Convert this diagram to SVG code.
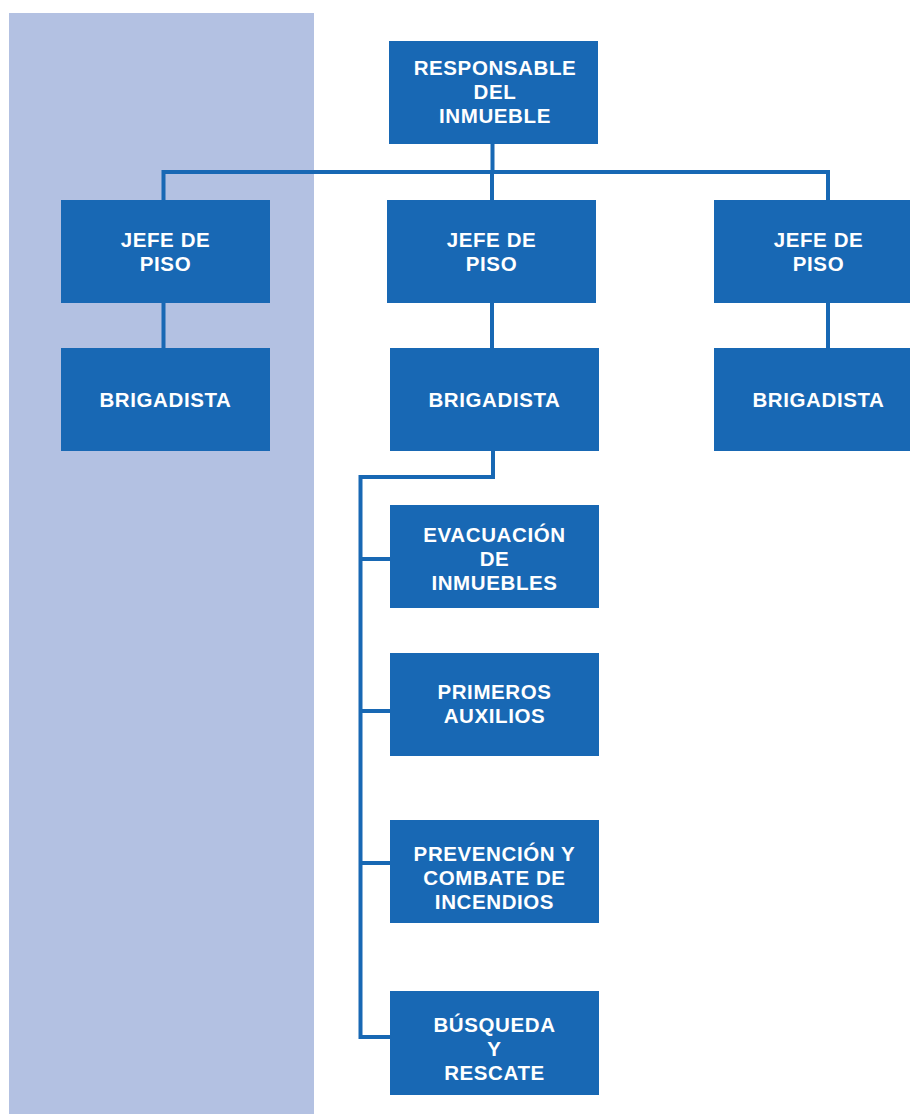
<svg xmlns="http://www.w3.org/2000/svg" width="910" height="1114" viewBox="0 0 910 1114">
<style>
.box{fill:#1868B4}
.t{fill:#fff;font-family:"Liberation Sans",Arial,sans-serif;font-weight:bold;font-size:20.5px;letter-spacing:0.6px;text-anchor:middle}
.c{fill:none;stroke:#1868B4;stroke-width:4}
</style>
<rect x="0" y="0" width="910" height="1114" fill="#fff"/>
<rect x="9" y="13" width="305" height="1101" fill="#B3C1E2"/>
<g id="connectors">
<path class="c" d="M492.5 144V172M163.5 200V172H828V200M492 172V200"/>
<path class="c" d="M163.5 303V348M492 303V348M828 303V348"/>
<path class="c" d="M493 451V477H360.5V1037H390M360.5 559H390M360.5 711H390M360.5 863H390"/>
</g>
<g id="n-responsable"><rect class="box" x="389" y="41" width="209" height="103"/><text class="t" x="495" y="75">RESPONSABLE</text><text class="t" x="495" y="99">DEL</text><text class="t" x="495" y="123">INMUEBLE</text></g>
<g id="n-jefe1"><rect class="box" x="61" y="200" width="209" height="103"/><text class="t" x="165.5" y="247">JEFE DE</text><text class="t" x="165.5" y="271">PISO</text></g>
<g id="n-jefe2"><rect class="box" x="387" y="200" width="209" height="103"/><text class="t" x="491.5" y="247">JEFE DE</text><text class="t" x="491.5" y="271">PISO</text></g>
<g id="n-jefe3"><rect class="box" x="714" y="200" width="209" height="103"/><text class="t" x="818.5" y="247">JEFE DE</text><text class="t" x="818.5" y="271">PISO</text></g>
<g id="n-brig1"><rect class="box" x="61" y="348" width="209" height="103"/><text class="t" x="165.5" y="407">BRIGADISTA</text></g>
<g id="n-brig2"><rect class="box" x="390" y="348" width="209" height="103"/><text class="t" x="494.5" y="407">BRIGADISTA</text></g>
<g id="n-brig3"><rect class="box" x="714" y="348" width="209" height="103"/><text class="t" x="818.5" y="407">BRIGADISTA</text></g>
<g id="n-evac"><rect class="box" x="390" y="505" width="209" height="103"/><text class="t" x="494.5" y="542">EVACUACIÓN</text><text class="t" x="494.5" y="566">DE</text><text class="t" x="494.5" y="590">INMUEBLES</text></g>
<g id="n-primeros"><rect class="box" x="390" y="653" width="209" height="103"/><text class="t" x="494.5" y="699">PRIMEROS</text><text class="t" x="494.5" y="723">AUXILIOS</text></g>
<g id="n-prevencion"><rect class="box" x="390" y="820" width="209" height="103"/><text class="t" x="494.5" y="861">PREVENCIÓN Y</text><text class="t" x="494.5" y="885">COMBATE DE</text><text class="t" x="494.5" y="909">INCENDIOS</text></g>
<g id="n-busqueda"><rect class="box" x="390" y="991" width="209" height="104"/><text class="t" x="494.5" y="1032">BÚSQUEDA</text><text class="t" x="494.5" y="1056">Y</text><text class="t" x="494.5" y="1080">RESCATE</text></g>
</svg>
